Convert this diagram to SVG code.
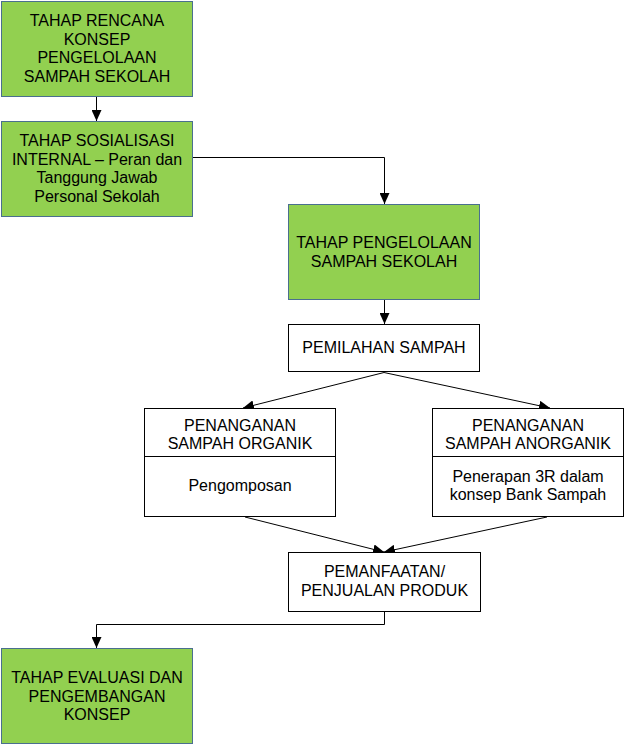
<svg xmlns="http://www.w3.org/2000/svg" width="625" height="745" viewBox="0 0 625 745">
<style>
.g{fill:#92D050;stroke:#4A6F8F;stroke-width:1}
.w{fill:#FFFFFF;stroke:#000000;stroke-width:1}
.t{font-family:"Liberation Sans",Arial,sans-serif;font-size:16px;fill:#000000;text-anchor:middle}
.c{fill:none;stroke:#000000;stroke-width:1}
</style>
<defs>
<marker id="ah" markerUnits="userSpaceOnUse" markerWidth="12" markerHeight="10" refX="11" refY="5" orient="auto">
<path d="M0,0 L11,5 L0,10 Z" fill="#000000"/>
</marker>
</defs>
<rect width="625" height="745" fill="#FFFFFF"/>
<g id="connectors">
<path class="c" d="M96.5,97 V121" marker-end="url(#ah)"/>
<path class="c" d="M193,157.5 H384.5 V204" marker-end="url(#ah)"/>
<path class="c" d="M384.5,300 V324" marker-end="url(#ah)"/>
<path class="c" d="M384,372.5 L243,408" marker-end="url(#ah)"/>
<path class="c" d="M384,372.5 L550,408" marker-end="url(#ah)"/>
<path class="c" d="M245,517 L384,552" marker-end="url(#ah)"/>
<path class="c" d="M547,517 L384,552" marker-end="url(#ah)"/>
<path class="c" d="M384.5,612 V624.5 H96.5 V648" marker-end="url(#ah)"/>
</g>
<g id="n1">
<rect class="g" x="1.5" y="1.5" width="191" height="95"/>
<text class="t" x="97" y="26">TAHAP RENCANA</text>
<text class="t" x="97" y="44.7">KONSEP</text>
<text class="t" x="97" y="63.4">PENGELOLAAN</text>
<text class="t" x="97" y="82">SAMPAH SEKOLAH</text>
</g>
<g id="n2">
<rect class="g" x="1.5" y="121.5" width="191" height="95"/>
<text class="t" x="97" y="146">TAHAP SOSIALISASI</text>
<text class="t" x="97" y="164.7">INTERNAL – Peran dan</text>
<text class="t" x="97" y="183.4">Tanggung Jawab</text>
<text class="t" x="97" y="202">Personal Sekolah</text>
</g>
<g id="n3">
<rect class="g" x="288.5" y="204.5" width="191" height="95"/>
<text class="t" x="384" y="248">TAHAP PENGELOLAAN</text>
<text class="t" x="384" y="267">SAMPAH SEKOLAH</text>
</g>
<g id="n4">
<rect class="w" x="288.5" y="324.5" width="191" height="47"/>
<text class="t" x="384" y="353">PEMILAHAN SAMPAH</text>
</g>
<g id="n5">
<rect class="w" x="144.5" y="408.5" width="191" height="108"/>
<line class="c" x1="144.5" y1="456.5" x2="335.5" y2="456.5"/>
<text class="t" x="240" y="431">PENANGANAN</text>
<text class="t" x="240" y="449">SAMPAH ORGANIK</text>
<text class="t" x="240" y="490.5">Pengomposan</text>
</g>
<g id="n6">
<rect class="w" x="432.5" y="408.5" width="191" height="108"/>
<line class="c" x1="432.5" y1="456.5" x2="623.5" y2="456.5"/>
<text class="t" x="528" y="431">PENANGANAN</text>
<text class="t" x="528" y="449">SAMPAH ANORGANIK</text>
<text class="t" x="528" y="482">Penerapan 3R dalam</text>
<text class="t" x="528" y="500">konsep Bank Sampah</text>
</g>
<g id="n7">
<rect class="w" x="288.5" y="552.5" width="192" height="59"/>
<text class="t" x="384.5" y="577">PEMANFAATAN/</text>
<text class="t" x="384.5" y="596">PENJUALAN PRODUK</text>
</g>
<g id="n8">
<rect class="g" x="1.5" y="648.5" width="191" height="95"/>
<text class="t" x="97" y="683">TAHAP EVALUASI DAN</text>
<text class="t" x="97" y="701.5">PENGEMBANGAN</text>
<text class="t" x="97" y="720">KONSEP</text>
</g>
</svg>
